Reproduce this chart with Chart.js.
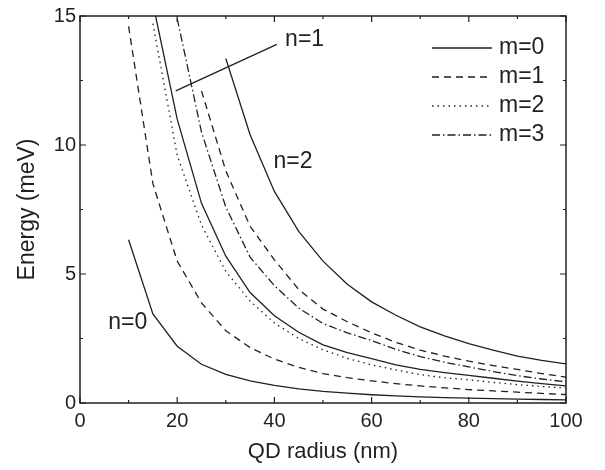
<!DOCTYPE html>
<html>
<head>
<meta charset="utf-8">
<script src="https://cdn.jsdelivr.net/npm/chart.js@4.4.0/dist/chart.umd.min.js"></script>
<style>
  html, body { margin: 0; padding: 0; background: #fff; }
</style>
</head>
<body>
<canvas id="energyChart" width="605" height="470"></canvas>
<script>
// QD radius (nm) sample points, shared by every curve
const radius = [10, 15, 20, 25, 30, 35, 40, 45, 50, 55, 60, 65, 70, 75, 80, 85, 90, 95, 100];

// Energy (meV), null where the curve is not drawn
const n0m0 = [6.33, 3.45, 2.20, 1.50, 1.11, 0.86, 0.68, 0.55, 0.45, 0.38, 0.32, 0.28, 0.24, 0.21, 0.19, 0.17, 0.15, 0.135, 0.12];
const n0m1 = [14.6, 8.5, 5.5, 3.88, 2.8, 2.15, 1.7, 1.38, 1.14, 0.98, 0.86, 0.75, 0.66, 0.59, 0.52, 0.47, 0.42, 0.37, 0.33];
const n0m2 = [null, 14.7, 9.6, 6.9, 5.1, 3.95, 3.1, 2.5, 2.06, 1.73, 1.48, 1.28, 1.1, 0.98, 0.9, 0.8, 0.71, 0.64, 0.58];
const n1m0 = [null, 15.5, 11.0, 7.74, 5.69, 4.28, 3.38, 2.74, 2.25, 1.95, 1.72, 1.48, 1.3, 1.18, 1.07, 0.96, 0.85, 0.75, 0.66];
const n0m3 = [null, null, 14.9, 10.5, 7.6, 5.65, 4.55, 3.68, 3.08, 2.72, 2.42, 2.08, 1.8, 1.58, 1.4, 1.22, 1.06, 0.93, 0.82];
const n1m1 = [null, null, null, 12.1, 9.0, 6.85, 5.55, 4.4, 3.64, 3.15, 2.72, 2.35, 2.05, 1.82, 1.62, 1.45, 1.3, 1.14, 1.0];
const n2m0 = [null, null, null, null, 13.35, 10.4, 8.2, 6.65, 5.5, 4.6, 3.92, 3.4, 2.95, 2.6, 2.3, 2.05, 1.82, 1.65, 1.52];

// leader line from the n=1 label to its curve
const leaderX = [19.7, 40.5];
const leaderY = [12.1, 13.9];

// text labels on the plot (data coordinates)
const curveLabels = [
    { text: 'n=0', x: 5.8, y: 3.12 },
    { text: 'n=1', x: 42.2, y: 14.1 },
    { text: 'n=2', x: 39.8, y: 9.37 }
];

const legendLabels = ['m=0', 'm=1', 'm=2', 'm=3'];
const xTicks = [0, 20, 40, 60, 80, 100];
const yTicks = [0, 5, 10, 15];

const INK = '#231f20';
const FONT = "'Liberation Sans', Arial, Helvetica, sans-serif";
const dashes = [[], [7, 5], [1.5, 4], [8, 3, 1.5, 3]];

function toPoints(values) {
    const pts = [];
    values.forEach((v, i) => {
        if (v !== null) pts.push({ x: radius[i], y: v });
    });
    return pts;
}

function curve(values, m) {
    return {
        data: toPoints(values),
        borderColor: INK,
        borderWidth: 1.3,
        borderDash: dashes[m],
        pointRadius: 0,
        tension: 0,
        fill: false,
        clip: 0
    };
}

const leader = {
    data: leaderX.map((x, i) => ({ x: x, y: leaderY[i] })),
    borderColor: INK,
    borderWidth: 1.3,
    pointRadius: 0,
    fill: false
};

// frame with inward ticks on all four sides
const framePlugin = {
    id: 'frame',
    afterDraw(chart) {
        const { ctx, chartArea: a, scales } = chart;
        ctx.save();
        ctx.strokeStyle = INK;
        ctx.lineWidth = 1.5;
        ctx.strokeRect(a.left, a.top, a.right - a.left, a.bottom - a.top);
        ctx.lineWidth = 1.2;
        ctx.beginPath();
        for (let v = 0; v <= 100; v += 10) {
            const px = scales.x.getPixelForValue(v);
            const len = v % 20 === 0 ? 6 : 3;
            ctx.moveTo(px, a.bottom); ctx.lineTo(px, a.bottom - len);
            ctx.moveTo(px, a.top); ctx.lineTo(px, a.top + len);
        }
        for (let v = 0; v <= 15; v += 2.5) {
            const py = scales.y.getPixelForValue(v);
            const len = v % 5 === 0 ? 6 : 3;
            ctx.moveTo(a.left, py); ctx.lineTo(a.left + len, py);
            ctx.moveTo(a.right, py); ctx.lineTo(a.right - len, py);
        }
        ctx.stroke();
        ctx.restore();
    }
};

// n labels and the m legend
const textPlugin = {
    id: 'texts',
    afterDraw(chart) {
        const { ctx, chartArea: a, scales } = chart;
        ctx.save();
        ctx.fillStyle = INK;
        ctx.font = '23px ' + FONT;
        ctx.textBaseline = 'middle';
        ctx.textAlign = 'left';
        curveLabels.forEach(l => {
            ctx.fillText(l.text, scales.x.getPixelForValue(l.x), scales.y.getPixelForValue(l.y));
        });

        const lineLeft = a.right - 134;
        const lineRight = a.right - 74;
        const textLeft = a.right - 67;
        ctx.strokeStyle = INK;
        ctx.lineWidth = 1.3;
        legendLabels.forEach((label, i) => {
            const y = a.top + 32 + i * 29;
            ctx.setLineDash(dashes[i]);
            ctx.beginPath();
            ctx.moveTo(lineLeft, y);
            ctx.lineTo(lineRight, y);
            ctx.stroke();
            ctx.setLineDash([]);
            ctx.fillText(label, textLeft, y);
        });
        ctx.restore();
    }
};

const ctx = document.getElementById('energyChart').getContext('2d');
new Chart(ctx, {
    type: 'line',
    data: {
        datasets: [
            curve(n0m0, 0),
            curve(n0m1, 1),
            curve(n0m2, 2),
            curve(n1m0, 0),
            curve(n0m3, 3),
            curve(n1m1, 1),
            curve(n2m0, 0),
            leader
        ]
    },
    options: {
        responsive: false,
        animation: false,
        layout: { padding: { top: 13, right: 39, left: 0, bottom: 0 } },
        plugins: {
            legend: { display: false },
            tooltip: { enabled: false }
        },
        scales: {
            x: {
                type: 'linear',
                min: 0,
                max: 100,
                afterFit: s => { s.height = 67; },
                afterBuildTicks: s => { s.ticks = xTicks.map(v => ({ value: v })); },
                grid: { display: false, drawTicks: false },
                border: { display: false },
                ticks: { color: INK, padding: 6, font: { family: FONT, size: 20 }, maxRotation: 0 },
                title: {
                    display: true,
                    text: 'QD radius (nm)',
                    color: INK,
                    font: { family: FONT, size: 22 },
                    padding: { top: 0, bottom: 5 }
                }
            },
            y: {
                type: 'linear',
                min: 0,
                max: 15,
                afterFit: s => { s.width = 80; },
                afterBuildTicks: s => { s.ticks = yTicks.map(v => ({ value: v })); },
                grid: { display: false, drawTicks: false },
                border: { display: false },
                ticks: { color: INK, padding: 4, font: { family: FONT, size: 20 } },
                title: {
                    display: true,
                    text: 'Energy (meV)',
                    color: INK,
                    font: { family: FONT, size: 23 },
                    padding: { top: 14, bottom: 0 }
                }
            }
        }
    },
    plugins: [framePlugin, textPlugin]
});
</script>
</body>
</html>
